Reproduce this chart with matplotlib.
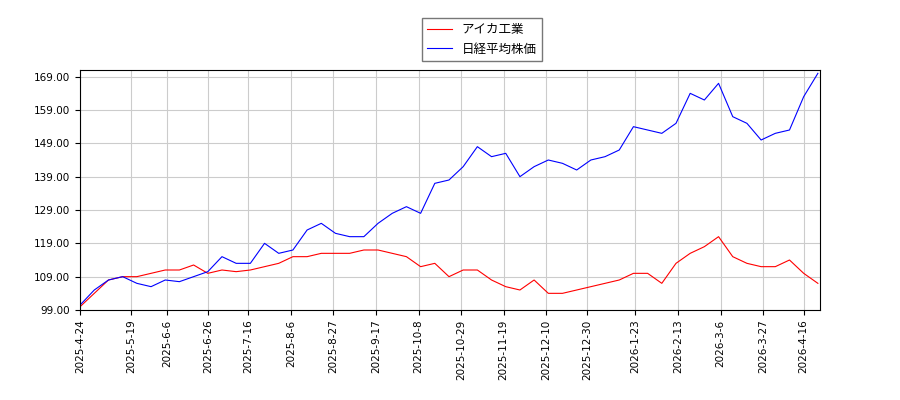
import matplotlib
matplotlib.use("Agg")
import matplotlib.pyplot as plt
import datetime as dt

start = dt.date(2025, 4, 24)
dates = [start + dt.timedelta(days=7*i) for i in range(53)]
nikkei = [100.5,105,108,109,107,106,108,107.5,109,110.5,115,113,113,119,116,117,123,125,122,121,121,125,128,130,128,137,138,142,148,145,146,139,142,144,143,141,144,145,147,154,153,152,155,164,162,167,157,155,150,152,153,163,170]
aica = [100,104,108,109,109,110,111,111,112.5,110,111,110.5,111,112,113,115,115,116,116,116,117,117,116,115,112,113,109,111,111,108,106,105,108,104,104,105,106,107,108,110,110,107,113,116,118,121,115,113,112,112,114,110,107]
yticks = [99, 109, 119, 129, 139, 149, 159, 169]
tick_strs = ["2025-4-24","2025-5-19","2025-6-6","2025-6-26","2025-7-16","2025-8-6","2025-8-27",
             "2025-9-17","2025-10-8","2025-10-29","2025-11-19","2025-12-10","2025-12-30",
             "2026-1-23","2026-2-13","2026-3-6","2026-3-27","2026-4-16"]
tick_dates = [dt.date(*map(int, s.split('-'))) for s in tick_strs]

fig = plt.figure(figsize=(9, 4), dpi=100)
ax = fig.add_axes([0.089, 0.225, 0.822, 0.6])
ax.plot(dates, aica, color='red', lw=0.8, label='アイカ工業')
ax.plot(dates, nikkei, color='blue', lw=0.8, label='日経平均株価')
ax.set_ylim(99, 171)
ax.set_xlim(start, dates[-1] + dt.timedelta(days=1))
ax.set_yticks(yticks)
ax.set_yticklabels([f"{v:.2f}" for v in yticks], fontsize=7.5)
ax.set_xticks(tick_dates)
ax.set_xticklabels(tick_strs, rotation=90, fontsize=7.5)
ax.grid(True, color='#cccccc', lw=0.8)
fig.legend(loc='upper center', bbox_to_anchor=(0.535, 0.97), prop={'family': ['Noto Sans CJK JP', 'DejaVu Sans'], 'size': 9}, fancybox=False, edgecolor='#555555')
fig.savefig('out.png')
